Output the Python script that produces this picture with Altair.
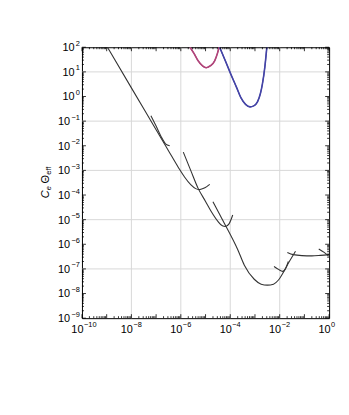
import altair as alt
import pandas as pd

W = 249.6
H = 273.6

# ---- curves (log10 of x, log10 of y) ----
s1_lx = [-8.97, -8.0, -7.0, -6.5, -6.1, -5.85, -5.6, -5.4, -5.25, -5.1, -4.95, -4.83]
s1_ly = [2.0, 0.35, -1.35, -2.2, -2.88, -3.27, -3.58, -3.74, -3.78, -3.74, -3.66, -3.57]

s2_lx = [-7.21, -7.0, -6.8, -6.62, -6.45]
s2_ly = [-0.78, -1.2, -1.62, -1.92, -2.0]

s3_lx = [-5.90, -5.6, -5.3, -5.0, -4.77, -4.5, -4.32, -4.2, -4.05, -3.90]
s3_ly = [-2.26, -3.0, -3.73, -4.26, -4.67, -5.07, -5.25, -5.28, -5.17, -4.81]

s4_lx = [-4.70, -4.4, -4.17, -4.10, -3.70, -3.43, -3.03, -2.75, -2.50, -2.25, -2.05, -1.83, -1.61, -1.36]
s4_ly = [-4.27, -4.84, -5.28, -5.41, -6.21, -6.85, -7.42, -7.62, -7.66, -7.62, -7.45, -7.10, -6.70, -6.28]

s5_lx = [-2.23, -2.05, -1.88, -1.78, -1.65]
s5_ly = [-6.90, -7.02, -7.10, -7.02, -6.70]

s6_lx = [-1.69, -1.45, -1.1, -0.7, -0.35, 0.0]
s6_ly = [-6.33, -6.42, -6.46, -6.47, -6.45, -6.42]

s7_lx = [-0.42, -0.2, -0.02]
s7_ly = [-6.19, -6.33, -6.48]

mag_lx = [-5.63, -5.45, -5.30, -5.12, -4.97, -4.80, -4.63, -4.52, -4.45]
mag_ly = [2.0, 1.72, 1.45, 1.24, 1.17, 1.25, 1.45, 1.75, 2.0]

blue_lx = [-4.43, -4.2, -3.97, -3.75, -3.57, -3.38, -3.2, -3.05, -2.9, -2.78, -2.7, -2.6, -2.52]
blue_ly = [2.0, 1.45, 0.89, 0.38, -0.05, -0.32, -0.42, -0.38, -0.22, 0.12, 0.5, 1.2, 2.0]

seg_names = ["s1", "s2", "s3", "s4", "s5", "s6", "s7", "mag", "blue"]
seg_colors = ["#333333"] * 7 + ["#b0457a", "#4444a6"]

# ---- axis values ----
x_label_exps = [-10, -8, -6, -4, -2, 0]
y_label_exps = [2, 1, 0, -1, -2, -3, -4, -5, -6, -7, -8, -9]
x_grid = [1e-8, 1e-6, 1e-4, 1e-2]
y_grid = [1e1, 1e-1, 1e-3, 1e-5, 1e-7]
x_major = [10.0 ** e for e in range(-10, 1)]
x_minor = [k * 10.0 ** e for e in range(-10, 0) for k in range(2, 10)]
y_major = [10.0 ** e for e in range(-9, 3)]
y_minor = [k * 10.0 ** e for e in range(-9, 2) for k in range(2, 10)]

title_parts = ["C", "e", "Θ", "eff"]

# ---- build tables ----
series = {
    "s1": (s1_lx, s1_ly), "s2": (s2_lx, s2_ly), "s3": (s3_lx, s3_ly),
    "s4": (s4_lx, s4_ly), "s5": (s5_lx, s5_ly), "s6": (s6_lx, s6_ly),
    "s7": (s7_lx, s7_ly), "mag": (mag_lx, mag_ly), "blue": (blue_lx, blue_ly),
}
rows = []
for name in seg_names:
    lx, ly = series[name]
    for i, (a, b) in enumerate(zip(lx, ly)):
        rows.append({"seg": name, "i": i, "x": 10.0 ** a, "y": 10.0 ** b})
df = pd.DataFrame(rows)


def sup(e):
    return str(e).replace("-", "\u2212")


xl = pd.DataFrame({"v": [10.0 ** e for e in x_label_exps], "e": [sup(e) for e in x_label_exps]})
yl = pd.DataFrame({"v": [10.0 ** e for e in y_label_exps], "e": [sup(e) for e in y_label_exps],
                   "neg": [e < 0 for e in y_label_exps]})

xs = alt.Scale(type="log", domain=[1e-10, 1], nice=False)
ys = alt.Scale(type="log", domain=[1e-9, 1e2], nice=False)
FONT = "Liberation Sans"
GRID = "#d8d8d8"

X = lambda f="x": alt.X(f"{f}:Q", scale=xs, axis=None)
Y = lambda f="y": alt.Y(f"{f}:Q", scale=ys, axis=None)

grid_x = alt.Chart(pd.DataFrame({"x": x_grid})).mark_rule(color=GRID, strokeWidth=1).encode(x=X())
grid_y = alt.Chart(pd.DataFrame({"y": y_grid})).mark_rule(color=GRID, strokeWidth=1).encode(y=Y())

lines = alt.Chart(df).mark_line(strokeWidth=1.1, interpolate="monotone", clip=True).encode(
    x=X(), y=Y(),
    detail="seg:N",
    color=alt.Color("seg:N", scale=alt.Scale(domain=seg_names, range=seg_colors), legend=None),
    order="i:Q",
)
mag_blue = alt.Chart(df[df.seg.isin(["mag", "blue"])]).mark_line(
    strokeWidth=1.6, interpolate="monotone", clip=True).encode(
    x=X(), y=Y(),
    detail="seg:N",
    color=alt.Color("seg:N", scale=alt.Scale(domain=seg_names, range=seg_colors), legend=None),
    order="i:Q",
)


def xticks(vals, L):
    d = pd.DataFrame({"x": vals})
    b = alt.Chart(d).mark_rule(color="black", strokeWidth=0.8).encode(
        x=X(), y=alt.value(H), y2=alt.value(H - L))
    t = alt.Chart(d).mark_rule(color="black", strokeWidth=0.8).encode(
        x=X(), y=alt.value(0), y2=alt.value(L))
    return [b, t]


def yticks(vals, L):
    d = pd.DataFrame({"y": vals})
    l = alt.Chart(d).mark_rule(color="black", strokeWidth=0.8).encode(
        y=Y(), x=alt.value(0), x2=alt.value(L))
    r = alt.Chart(d).mark_rule(color="black", strokeWidth=0.8).encode(
        y=Y(), x=alt.value(W), x2=alt.value(W - L))
    return [l, r]


ticks = xticks(x_major, 4) + xticks(x_minor, 2) + yticks(y_major, 4) + yticks(y_minor, 2)

# tick labels
xl_base = alt.Chart(xl).mark_text(align="right", baseline="alphabetic", fontSize=11, font=FONT, dx=1.5,
                                  color="black").encode(
    x=X("v"), y=alt.value(H + 14.7), text=alt.value("10"))
xl_exp = alt.Chart(xl).mark_text(align="left", baseline="alphabetic", fontSize=7.5, font=FONT, dx=2,
                                 color="black").encode(
    x=X("v"), y=alt.value(H + 9.2), text="e:N")

yl_pos = yl[~yl.neg]
yl_neg = yl[yl.neg]
yl_base_p = alt.Chart(yl_pos).mark_text(align="right", baseline="alphabetic", fontSize=11, font=FONT, dy=4,
                                        color="black").encode(
    y=Y("v"), x=alt.value(-7.5), text=alt.value("10"))
yl_base_n = alt.Chart(yl_neg).mark_text(align="right", baseline="alphabetic", fontSize=11, font=FONT, dy=4,
                                        color="black").encode(
    y=Y("v"), x=alt.value(-12), text=alt.value("10"))
yl_exp = alt.Chart(yl).mark_text(align="right", baseline="alphabetic", fontSize=7.5, font=FONT, dy=-1.5,
                                 color="black").encode(
    y=Y("v"), x=alt.value(-2), text="e:N")

# y title: C_e Θ_eff (rotated)
def tpart(txt, size, style, bx, sy):
    return alt.Chart(pd.DataFrame({"t": [txt]})).mark_text(
        angle=270, align="left", baseline="alphabetic", fontSize=size, font=FONT,
        fontStyle=style, color="black").encode(
        x=alt.value(bx), y=alt.value(sy), text="t:N")


title = [
    tpart(title_parts[0], 11, "italic", -33.5, 152.5),
    tpart(title_parts[1], 7.5, "italic", -31.3, 144.5),
    tpart(title_parts[2], 11, "normal", -33.5, 137.5),
    tpart(title_parts[3], 7.5, "normal", -31.3, 128.7),
]

chart = alt.layer(
    grid_x, grid_y, lines, mag_blue, *ticks, xl_base, xl_exp, yl_base_p, yl_base_n, yl_exp, *title
).properties(
    width=W, height=H,
    padding={"left": 74.7, "top": 37.7, "right": 12, "bottom": 80},
    autosize=alt.AutoSizeParams(type="none"),
).configure_view(stroke="black", strokeWidth=1)

chart.save("out.html", embed_options={"renderer": "svg", "actions": False})
